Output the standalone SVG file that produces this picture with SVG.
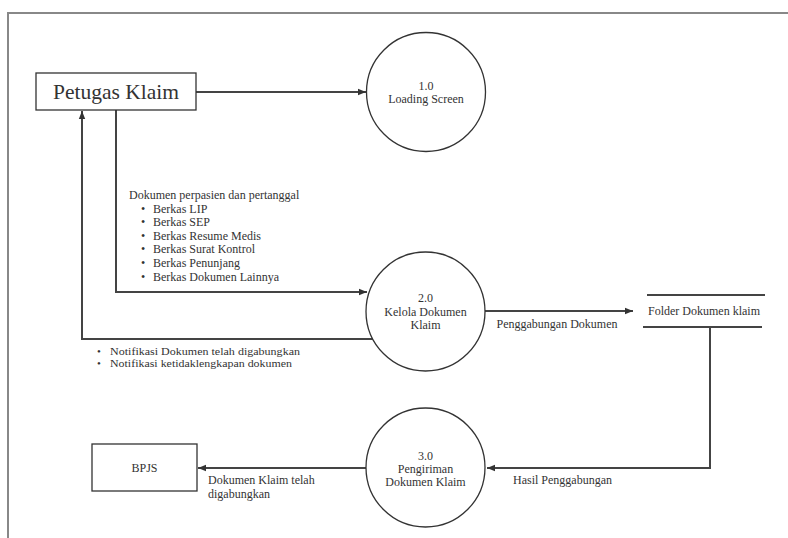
<svg xmlns="http://www.w3.org/2000/svg" width="788" height="538" viewBox="0 0 788 538" font-family="'Liberation Serif', 'DejaVu Serif', 'Times New Roman', serif">
<style>
text{font-family:'Liberation Serif','DejaVu Serif','Times New Roman',serif;fill:#333;font-size:12px}
.c{text-anchor:middle}
.s{font-size:11px}
.node{fill:#fff;stroke:#333;stroke-width:1.3}
.conn{fill:none;stroke:#444;stroke-width:2}
.frame{fill:none;stroke:#888;stroke-width:2}
</style>
<defs>
<marker id="ah" viewBox="0 0 10 10" refX="10" refY="5" markerWidth="4" markerHeight="4" orient="auto" markerUnits="strokeWidth">
<path d="M0,1 L10,5 L0,9 Z" fill="#333"/>
</marker>
</defs>
<rect width="788" height="538" fill="#fff"/>
<path class="frame" d="M8,538 V13 H788"/>

<g id="connectors">
<line class="conn" x1="196" y1="92" x2="366" y2="92" marker-end="url(#ah)"/>
<polyline class="conn" points="116,110 116,292 367,292" marker-end="url(#ah)"/>
<polyline class="conn" points="373,339 82,339 82,111" marker-end="url(#ah)"/>
<line class="conn" x1="485" y1="311" x2="633" y2="311" marker-end="url(#ah)"/>
<polyline class="conn" points="710,327 710,468 487,468" marker-end="url(#ah)"/>
<line class="conn" x1="366" y1="468" x2="198" y2="468" marker-end="url(#ah)"/>
<text x="129" y="199">Dokumen perpasien dan pertanggal</text>
<g>
<text x="141" y="213">•</text><text x="153" y="213">Berkas LIP</text>
<text x="141" y="226">•</text><text x="153" y="226">Berkas SEP</text>
<text x="141" y="240">•</text><text x="153" y="240">Berkas Resume Medis</text>
<text x="141" y="253">•</text><text x="153" y="253">Berkas Surat Kontrol</text>
<text x="141" y="267">•</text><text x="153" y="267">Berkas Penunjang</text>
<text x="141" y="281">•</text><text x="153" y="281">Berkas Dokumen Lainnya</text>
</g>
<text class="s" x="97" y="355">•</text><text class="s" x="110" y="355" textLength="190" lengthAdjust="spacingAndGlyphs">Notifikasi Dokumen telah digabungkan</text>
<text class="s" x="97" y="367">•</text><text class="s" x="110" y="367" textLength="182" lengthAdjust="spacingAndGlyphs">Notifikasi ketidaklengkapan dokumen</text>
<text class="c" x="557" y="328">Penggabungan Dokumen</text>
<text x="513" y="484">Hasil Penggabungan</text>
<text x="208" y="484">Dokumen Klaim telah</text>
<text x="208" y="498">digabungkan</text>
</g>

<g id="petugas">
<rect class="node" x="36" y="73" width="160" height="37"/>
<text class="c" x="116" y="99" style="font-size:21.5px">Petugas Klaim</text>
</g>

<g id="p1">
<circle class="node" cx="426" cy="92" r="59.5"/>
<text class="c" x="426" y="90">1.0</text>
<text class="c" x="426" y="103">Loading Screen</text>
</g>

<g id="p2">
<circle class="node" cx="425.5" cy="311.5" r="59.5"/>
<text class="c" x="425.5" y="302">2.0</text>
<text class="c" x="425.5" y="316">Kelola Dokumen</text>
<text class="c" x="425.5" y="329">Klaim</text>
</g>

<g id="store">
<line class="conn" x1="647" y1="295" x2="765" y2="295"/>
<line class="conn" x1="643" y1="327" x2="762" y2="327"/>
<text class="c" x="704" y="315">Folder Dokumen klaim</text>
</g>

<g id="p3">
<circle class="node" cx="425.5" cy="467.5" r="59.5"/>
<text class="c" x="425.5" y="460">3.0</text>
<text class="c" x="425.5" y="473">Pengiriman</text>
<text class="c" x="425.5" y="486">Dokumen Klaim</text>
</g>

<g id="bpjs">
<rect class="node" x="92" y="444" width="105" height="47"/>
<text class="c" x="144.5" y="472">BPJS</text>
</g>
</svg>
